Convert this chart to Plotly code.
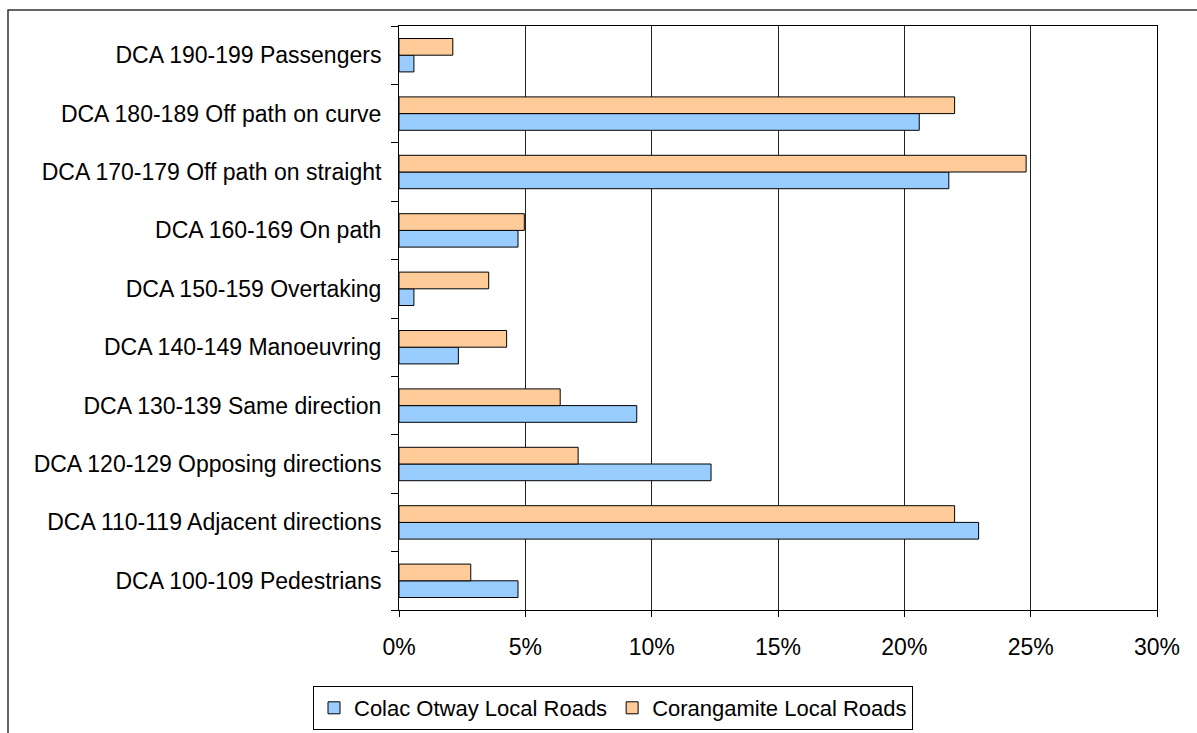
import plotly.graph_objects as go

# DCA crash groups, bottom to top
categories = [
    "DCA 100-109 Pedestrians",
    "DCA 110-119 Adjacent directions",
    "DCA 120-129 Opposing directions",
    "DCA 130-139 Same direction",
    "DCA 140-149 Manoeuvring",
    "DCA 150-159 Overtaking",
    "DCA 160-169 On path",
    "DCA 170-179 Off path on straight",
    "DCA 180-189 Off path on curve",
    "DCA 190-199 Passengers",
]

# Share of casualty crashes (%)
colac_otway = [4.71, 22.94, 12.35, 9.41, 2.35, 0.59, 4.71, 21.76, 20.59, 0.59]
corangamite = [2.84, 21.99, 7.09, 6.38, 4.26, 3.55, 4.96, 24.82, 21.99, 2.13]

x_ticks = [0, 5, 10, 15, 20, 25, 30]
x_tick_labels = ["0%", "5%", "10%", "15%", "20%", "25%", "30%"]

FONT = "Liberation Sans, Arial, sans-serif"
FS = 23
LEGEND_FS = 22

fig = go.Figure()
fig.add_trace(go.Bar(
    y=categories, x=colac_otway, orientation="h",
    name="Colac Otway Local Roads",
    marker=dict(color="#99CCFF", line=dict(color="#000000", width=1)),
))
fig.add_trace(go.Bar(
    y=categories, x=corangamite, orientation="h",
    name="Corangamite Local Roads",
    marker=dict(color="#FFCC99", line=dict(color="#000000", width=1)),
))

W, H = 1197, 733
L, R, T, B = 399, 40, 26, 123
pw, ph = W - L - R, H - T - B

def px_x(v):
    return (v - L) / pw

def px_y(v):
    return (H - B - v) / ph

# outer chart frame (runs off the right and bottom edges)
fig.add_shape(
    type="rect", xref="paper", yref="paper",
    x0=px_x(8), x1=px_x(1225), y0=px_y(750), y1=px_y(10),
    line=dict(color="#333333", width=1.5), fillcolor="rgba(0,0,0,0)",
    layer="below",
)

fig.update_layout(
    width=W, height=H,
    margin=dict(l=L, r=R, t=T, b=B, pad=0, autoexpand=False),
    paper_bgcolor="white", plot_bgcolor="white",
    font=dict(family=FONT, size=FS, color="#000000"),
    barmode="group", bargap=0.428, bargroupgap=0,
    showlegend=True,
    legend=dict(
        orientation="h",
        xref="container", yref="container",
        x=313 / W, y=1 - 730 / H,
        xanchor="left", yanchor="bottom",
        bordercolor="#000000", borderwidth=1,
        bgcolor="white", traceorder="normal",
        font=dict(family=FONT, size=LEGEND_FS, color="#000000"),
        itemwidth=30,
    ),
    xaxis=dict(
        range=[0, 30], tickmode="array", tickvals=x_ticks, ticktext=x_tick_labels,
        showgrid=True, gridcolor="#222222", gridwidth=1,
        showline=True, linecolor="#000000", linewidth=1, mirror=True,
        ticks="outside", ticklen=6, tickcolor="#000000",
        ticklabelstandoff=10, zeroline=False, automargin=False,
        tickfont=dict(family=FONT, size=FS, color="#000000"),
    ),
    yaxis=dict(
        type="category", categoryorder="array", categoryarray=categories,
        showgrid=False, showline=True, linecolor="#000000", linewidth=1,
        mirror=True, ticks="outside", ticklen=7, tickcolor="#000000",
        tickson="boundaries", ticklabelstandoff=12, automargin=False,
        tickfont=dict(family=FONT, size=FS, color="#000000"),
    ),
)

fig.write_html("out.html")
